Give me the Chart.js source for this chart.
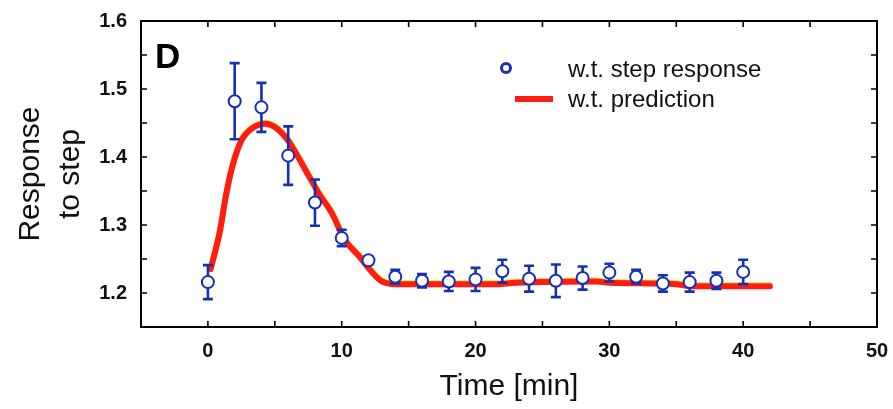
<!DOCTYPE html>
<html lang="en">
<head>
<meta charset="UTF-8" />
<title>Response to step</title>
<script src="https://cdn.jsdelivr.net/npm/chart.js"></script>
<style>
  html, body { margin: 0; padding: 0; background: #fff; }
</style>
</head>
<body>
<canvas id="grafico" width="893" height="409"></canvas>
<script>
  // measured step response, mean and error every 2 min
  const tempos = [0, 2, 4, 6, 8, 10, 12, 14, 16, 18, 20, 22, 24, 26, 28, 30, 32, 34, 36, 38, 40];
  const resposta = [1.216, 1.482, 1.473, 1.402, 1.333, 1.281, 1.248, 1.224, 1.218, 1.217, 1.220,
                    1.232, 1.221, 1.218, 1.222, 1.230, 1.224, 1.214, 1.216, 1.218, 1.231];
  const erros = [0.025, 0.056, 0.036, 0.043, 0.034, 0.012, 0.006, 0.010, 0.010, 0.014, 0.017,
                 0.017, 0.019, 0.024, 0.017, 0.013, 0.010, 0.012, 0.014, 0.012, 0.018];

  // model prediction
  const tempoPred = [0.2, 0.9, 1.3, 1.8, 2.5, 3.3, 4.3, 5.0, 6.0, 7.2, 8.3, 9.3, 10.2, 11.3,
                     12.2, 13.0, 14.0, 21.5, 23.0, 29.0, 30.0, 35.0, 36.0, 42.0];
  const predicao = [1.235, 1.291, 1.338, 1.384, 1.424, 1.442, 1.449, 1.444, 1.424, 1.384,
                    1.346, 1.316, 1.279, 1.254, 1.232, 1.217, 1.213, 1.213, 1.215, 1.217,
                    1.215, 1.213, 1.210, 1.210];

  // ticks (all) and the ones that carry a label
  const xTicks = [-5, 0, 5, 10, 15, 20, 25, 30, 35, 40, 45, 50];
  const xRotulos = [0, 10, 20, 30, 40, 50];
  const yTicks = [1.15, 1.2, 1.25, 1.3, 1.35, 1.4, 1.45, 1.5, 1.55, 1.6];
  const yRotulos = [1.2, 1.3, 1.4, 1.5, 1.6];

  const AZUL = "#1630b4";
  const VERMELHO = "#ff1c12";
  const FONTE = "'Liberation Sans', Arial, sans-serif";

  function temRotulo(lista, v) {
    return lista.some((r) => Math.abs(r - v) < 1e-6);
  }

  // error bars between the line and the markers, inner ticks, frame, legend, panel letter
  const extras = {
    id: "extras",
    beforeDatasetDraw(chart, args) {
      const ctx = chart.ctx;
      if (args.index === 1) {
        ctx.save();
        ctx.shadowColor = "rgba(245,225,0,0.8)";
        ctx.shadowOffsetY = -1;
        ctx.shadowBlur = 0;
      }
      if (args.index === 0) {
        const xs = chart.scales.x;
        const ys = chart.scales.y;
        ctx.save();
        ctx.strokeStyle = AZUL;
        ctx.lineWidth = 2.6;
        for (let i = 0; i < tempos.length; i++) {
          const px = xs.getPixelForValue(tempos[i]);
          const yTop = ys.getPixelForValue(resposta[i] + erros[i]);
          const yBot = ys.getPixelForValue(resposta[i] - erros[i]);
          ctx.beginPath();
          ctx.moveTo(px, yTop);
          ctx.lineTo(px, yBot);
          ctx.moveTo(px - 5, yTop);
          ctx.lineTo(px + 5, yTop);
          ctx.moveTo(px - 5, yBot);
          ctx.lineTo(px + 5, yBot);
          ctx.stroke();
        }
        ctx.restore();
      }
    },
    afterDatasetDraw(chart, args) {
      if (args.index === 1) chart.ctx.restore();
    },
    afterDraw(chart) {
      const ctx = chart.ctx;
      const a = chart.chartArea;
      const xs = chart.scales.x;
      const ys = chart.scales.y;
      const L = 6;

      ctx.save();
      ctx.strokeStyle = "#000";
      ctx.lineWidth = 1.6;
      ctx.beginPath();
      xTicks.forEach((v) => {
        const px = xs.getPixelForValue(v);
        if (px <= a.left + 1 || px >= a.right - 1) return;
        ctx.moveTo(px, a.bottom);
        ctx.lineTo(px, a.bottom - L);
        ctx.moveTo(px, a.top);
        ctx.lineTo(px, a.top + L);
      });
      yTicks.forEach((v) => {
        const py = ys.getPixelForValue(v);
        if (py <= a.top + 1 || py >= a.bottom - 1) return;
        ctx.moveTo(a.left, py);
        ctx.lineTo(a.left + L, py);
        ctx.moveTo(a.right, py);
        ctx.lineTo(a.right - L, py);
      });
      ctx.stroke();

      ctx.lineWidth = 2;
      ctx.strokeRect(a.left, a.top, a.right - a.left, a.bottom - a.top);

      // panel letter
      ctx.fillStyle = "#000";
      ctx.font = "bold 35px " + FONTE;
      ctx.textBaseline = "alphabetic";
      ctx.textAlign = "left";
      ctx.fillText("D", 155, 68);

      // legend
      const ds = chart.data.datasets;
      ctx.font = "24px " + FONTE;
      ctx.textBaseline = "middle";
      ctx.beginPath();
      ctx.arc(506, 68, 4.5, 0, Math.PI * 2);
      ctx.fillStyle = "#fff";
      ctx.fill();
      ctx.strokeStyle = AZUL;
      ctx.lineWidth = 3;
      ctx.stroke();
      ctx.fillStyle = "#111";
      ctx.fillText(ds[0].label, 568, 70);

      ctx.strokeStyle = VERMELHO;
      ctx.lineWidth = 6;
      ctx.beginPath();
      ctx.moveTo(515, 99);
      ctx.lineTo(553, 99);
      ctx.stroke();
      ctx.fillText(ds[1].label, 568, 100);
      ctx.restore();
    },
  };

  new Chart(document.getElementById("grafico"), {
    type: "scatter",
    data: {
      datasets: [
        {
          label: "w.t. step response",
          data: tempos.map((t, i) => ({ x: t, y: resposta[i] })),
          pointRadius: 6,
          pointBorderWidth: 2,
          pointBorderColor: AZUL,
          pointBackgroundColor: "#fff",
          showLine: false,
        },
        {
          label: "w.t. prediction",
          type: "line",
          data: tempoPred.map((t, i) => ({ x: t, y: predicao[i] })),
          borderColor: VERMELHO,
          borderWidth: 6,
          pointRadius: 0,
          cubicInterpolationMode: "monotone",
          borderCapStyle: "round",
          borderJoinStyle: "round",
          fill: false,
        },
      ],
    },
    options: {
      responsive: false,
      devicePixelRatio: 1,
      animation: false,
      layout: { padding: { top: 21, right: 16, left: 0, bottom: 0 } },
      plugins: {
        legend: { display: false },
        tooltip: { enabled: false },
      },
      scales: {
        x: {
          type: "linear",
          min: -5,
          max: 50,
          afterBuildTicks: (s) => { s.ticks = xTicks.map((v) => ({ value: v })); },
          afterFit: (s) => {
            s.height = 82;
            s.paddingLeft = 0;
            s.paddingRight = 0;
          },
          grid: { display: false, drawTicks: false },
          border: { display: false },
          ticks: {
            padding: 12,
            maxRotation: 0,
            autoSkip: false,
            color: "#111",
            font: { family: FONTE, size: 20, weight: "bold" },
            callback: (v) => (temRotulo(xRotulos, v) ? String(v) : ""),
          },
          title: {
            display: true,
            text: "Time [min]",
            color: "#111",
            padding: { top: 0, bottom: 4 },
            font: { family: FONTE, size: 30 },
          },
        },
        y: {
          min: 1.15,
          max: 1.6,
          afterBuildTicks: (s) => { s.ticks = yTicks.map((v) => ({ value: v })); },
          afterFit: (s) => {
            s.width = 141;
            s.paddingTop = 0;
            s.paddingBottom = 0;
          },
          grid: { display: false, drawTicks: false },
          border: { display: false },
          ticks: {
            padding: 14,
            autoSkip: false,
            color: "#111",
            font: { family: FONTE, size: 20, weight: "bold" },
            callback: (v) => (temRotulo(yRotulos, v) ? v.toFixed(1) : ""),
          },
          title: {
            display: true,
            text: ["Response", "to step"],
            color: "#111",
            padding: { top: 10, bottom: 0 },
            font: { family: FONTE, size: 30, lineHeight: 1.35 },
          },
        },
      },
    },
    plugins: [extras],
  });
</script>
</body>
</html>
